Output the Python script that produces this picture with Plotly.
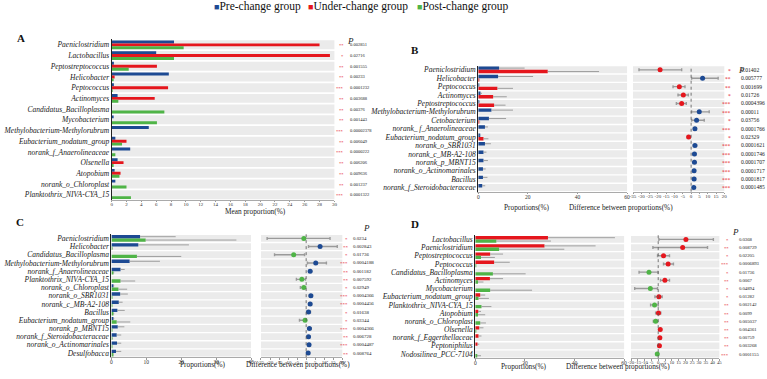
import plotly.graph_objects as go

# ---------------- data ----------------
A_taxa = ["Paeniclostridium", "Lactobacillus", "Peptostreptococcus", "Helicobacter", "Peptococcus",
          "Actinomyces", "Candidatus_Bacilloplasma", "Mycobacterium", "Methylobacterium-Methylorubrum",
          "Eubacterium_nodatum_group", "norank_f_Anaerolineaceae", "Olsenella", "Atopobium",
          "norank_o_Chloroplast", "Planktothrix_NIVA-CYA_15"]
A_pre = [8.4, 6.0, 0.3, 7.7, 0.3, 0.8, 0, 0.2, 5.0, 0.5, 2.5, 0.8, 0.4, 0.5, 0]
A_under = [28.0, 29.4, 6.1, 0.4, 7.6, 5.8, 0, 0, 0, 2.0, 0, 1.6, 1.2, 0, 0]
A_post = [9.7, 8.4, 2.3, 0.2, 0.1, 0.9, 7.1, 6.1, 0, 1.4, 0.5, 0.2, 1.05, 2.0, 2.6]
A_p = ["0.002851", "0.02716", "0.001555", "0.00233", "0.0001232", "0.003688", "0.00376", "0.001443",
       "0.00002378", "0.006049", "0.0000222", "0.006206", "0.009636", "0.001237", "0.0001322"]

B_taxa = ["Paeniclostridium", "Helicobacter", "Peptococcus", "Actinomyces", "Peptostreptococcus",
          "Methylobacterium-Methylorubrum", "Cetobacterium", "norank_ f_Anaerolineaceae",
          "Eubacterium_nodatum_group", "norank_o_SBR1031", "norank_c_MB-A2-108", "norank_p_MBNT15",
          "norank_o_Actinomarinales", "Bacillus", "norank_f_Steroidobacteraceae"]
B_pre = [8.4, 8.0, 0.2, 0.9, 0.3, 5.3, 4.3, 2.7, 0.5, 2.7, 2.1, 2.1, 1.9, 1.9, 1.6]
B_pre_sd = [10.3, 14.1, 0.2, 0.6, 0.3, 8.7, 6.9, 1.2, 0.3, 2.4, 1.2, 1.8, 1.1, 1.8, 1.2]
B_under = [28.0, 0.3, 7.7, 6.0, 6.4, 0, 0.4, 0, 2.1, 0, 0, 0, 0, 0, 0]
B_under_sd = [20.7, 0.3, 6.3, 5.5, 4.6, 0, 0.4, 0, 2.0, 0, 0, 0, 0, 0, 0]
B_diff = [-18.7, 6.9, -7.1, -4.7, -5.7, 4.9, 3.3, 2.3, -1.5, 2.3, 2.0, 2.0, 1.8, 1.8, 1.6]
B_lo = [-31.4, 0.3, -10.9, -7.9, -8.9, 0.3, 0.3, 1.5, -2.3, 1.4, 1.3, 1.2, 1.1, 1.1, 0.9]
B_hi = [-5.7, 16.3, -3.7, -1.7, -2.9, 10.9, 7.9, 3.1, -0.5, 3.3, 2.7, 2.8, 2.5, 2.6, 2.3]
B_p = ["0.01402", "0.005777", "0.001699", "0.01726", "0.0004396", "0.00011", "0.03756", "0.0001766",
       "0.02329", "0.0001621", "0.0001746", "0.0001707", "0.0001717", "0.0001817", "0.0001485"]

C_taxa = ["Paeniclostridium", "Helicobacter", "Candidatus_Bacilloplasma", "Methylobacterium-Methylorubrum",
          "norank_f_Anaerolineaceae", "Planktothrix_NIVA-CYA_15", "norank_o_Chloroplast", "norank_o_SBR1031",
          "norank_c_MB-A2-108", "Bacillus", "Eubacterium_nodatum_group", "norank_p_MBNT15",
          "norank_f_Steroidobacteraceae", "norank_o_Actinomarinales", "Desulfobacca"]
C_pre = [8.2, 7.7, 0, 5.2, 2.6, 0, 0.5, 2.5, 2.1, 1.7, 0.5, 1.8, 1.5, 1.6, 1.3]
C_pre_sd = [10.2, 14.5, 0, 8.7, 1.2, 0, 0.3, 2.2, 1.1, 2.1, 0.3, 1.9, 1.3, 1.2, 1.5]
C_post = [9.8, 0.2, 7.3, 0, 0.5, 2.6, 2.0, 0.1, 0.1, 0.5, 1.5, 0.1, 0.2, 0.1, 0.3]
C_post_sd = [26.0, 0.2, 12.7, 0, 0.3, 4.2, 2.5, 0.1, 0.1, 0.3, 3.9, 0.1, 0.2, 0.1, 0.2]
C_diff = [-1.3, 7.7, -6.9, 5.3, 2.2, -2.4, -1.3, 2.6, 2.2, 1.3, -0.6, 1.8, 1.3, 1.6, 1.1]
C_lo = [-21.6, 1.3, -17.5, 0.7, 1.4, -5.4, -3.2, 1.7, 1.4, 0.2, -3.7, 1.0, 0.6, 0.9, 0.3]
C_hi = [13.2, 17.2, -0.9, 11.2, 3.0, -0.4, -0.3, 3.5, 3.0, 2.4, -0.1, 2.8, 2.0, 2.3, 1.9]
C_p = ["0.0234", "0.002843", "0.01736", "0.0004188", "0.001182", "0.007592", "0.02949", "0.0004366",
       "0.0004456", "0.01638", "0.03344", "0.0004366", "0.006728", "0.0004487", "0.008764"]

D_taxa = ["Lactobacillus", "Paeniclostridium", "Peptostreptococcus", "Peptococcus", "Candidatus_Bacilloplasma",
          "Actinomyces", "Mycobacterium", "Eubacterium_nodatum_group", "Planktothrix_NIVA-CYA_15", "Atopobium",
          "norank_o_Chloroplast", "Olsenella", "norank_f_Eggerthellaceae", "Peptoniphilus", "Nodosilinea_PCC-7104"]
D_under = [29.3, 27.9, 6.0, 7.6, 0, 5.9, 0, 2.0, 0, 1.2, 0, 1.6, 1.3, 0.9, 0]
D_under_sd = [27.0, 20.6, 5.2, 6.3, 0, 5.3, 0, 2.0, 0, 1.1, 0, 1.7, 1.2, 0.7, 0]
D_post = [8.5, 9.6, 2.3, 0.1, 7.1, 1.1, 6.0, 1.3, 2.5, 1.1, 2.0, 0.2, 0, 0, 0.6]
D_post_sd = [22.0, 26.3, 5.6, 0, 13.2, 2.2, 16.9, 4.2, 4.0, 2.9, 2.3, 0.1, 0, 0, 1.7]
D_diff = [20.4, 18.0, 3.9, 7.3, -6.8, 4.9, -5.8, 0.5, -2.7, 0.2, -1.9, 1.5, 1.2, 0.9, -0.7]
D_lo = [0.5, -3.9, -0.5, 3.9, -14.1, 1.7, -17.3, -2.4, -5.6, -1.9, -3.6, 1.0, 0.7, 0.5, -1.2]
D_hi = [40.6, 36.3, 8.3, 11.2, -0.2, 8.3, -0.5, 2.9, 0.0, 1.9, -0.5, 2.0, 1.7, 1.3, -0.2]
D_p = ["0.0368", "0.008729", "0.02205", "0.0006893", "0.01736", "0.0067", "0.04894", "0.01282",
       "0.002142", "0.0099", "0.005037", "0.004361", "0.00759", "0.003268", "0.0001155"]

groups = ["Pre-change group", "Under-change group", "Post-change group"]

# ---------------- style ----------------
W, H = 767, 379
FONT = "Liberation Serif"
BLUE, RED, GREEN = "#1d4a93", "#e5161d", "#4fb447"
BAND = "#ebebeb"
ERR = "#8a8a8a"
CI = "#9a9a9a"


def fx(p):
    return p / W


def fy(p):
    return 1 - p / H


def stars(p):
    v = float(p)
    return "***" if v < 0.001 else ("**" if v < 0.01 else "*")


fig = go.Figure()
shapes, annos = [], []
layout = {}


def yaxis_cfg(taxa, dom, anchor):
    n = len(taxa)
    return dict(domain=[fy(dom[1]), fy(dom[0])], range=[n - 0.5, -0.5], anchor=anchor,
                tickvals=list(range(n)), ticktext=["<i>%s</i>" % t for t in taxa],
                tickfont=dict(family=FONT, size=7.5, color="#1a1a1a"), ticks="",
                showgrid=False, zeroline=False, showline=True, linecolor="#222", linewidth=1,
                fixedrange=True)


def xaxis_cfg(dom, rng, anchor, tickvals, ticktext=None, size=5.5):
    d = dict(domain=[fx(dom[0]), fx(dom[1])], range=rng, anchor=anchor, tickvals=tickvals,
             tickfont=dict(family=FONT, size=size, color="#333"), ticks="outside", ticklen=1.5,
             tickcolor="#999", showline=True, linecolor="#aaa", linewidth=0.8, tickangle=0,
             ticklabelstandoff=-2,
             showgrid=False, zeroline=False, fixedrange=True)
    if ticktext:
        d["ticktext"] = ticktext
    return d


def bands(xname, yname, n):
    for i in range(n):
        shapes.append(dict(type="rect", xref="%s domain" % xname, yref=yname, x0=0, x1=1,
                           y0=i - 0.42, y1=i + 0.42, fillcolor=BAND, line_width=0, layer="below"))


def pcol(yname, pvals, xs, xv, size, ph_xy):
    for i, p in enumerate(pvals):
        annos.append(dict(x=fx(xs), y=i, xref="paper", yref=yname, text=stars(p), showarrow=False,
                          xanchor="right", yanchor="middle", yshift=-1,
                          font=dict(family=FONT, size=size, color=RED)))
        annos.append(dict(x=fx(xv), y=i, xref="paper", yref=yname, text=p, showarrow=False,
                          xanchor="left", yanchor="middle", font=dict(family=FONT, size=size, color="#222")))
    annos.append(dict(x=fx(ph_xy[0]), y=fy(ph_xy[1]), xref="paper", yref="paper", text="<i>P</i>",
                      showarrow=False, font=dict(family=FONT, size=9, color="#222")))


def bar(vals, sd, color, name, xa, ya):
    err = None
    if sd is not None:
        err = dict(type="data", symmetric=False, array=sd, arrayminus=[0] * len(sd),
                   color=ERR, thickness=0.8, width=0)
    fig.add_trace(go.Bar(x=vals, y=list(range(len(vals))), orientation="h", name=name,
                         marker=dict(color=color, line_width=0), error_x=err,
                         xaxis=xa, yaxis=ya, showlegend=False, hoverinfo="x+y"))


def diff(vals, lo, hi, pos_col, neg_col, xa, ya):
    cols = [pos_col if v >= 0 else neg_col for v in vals]
    fig.add_trace(go.Scatter(x=vals, y=list(range(len(vals))), mode="markers",
                             marker=dict(color=cols, size=5, symbol="circle"),
                             error_x=dict(type="data", symmetric=False,
                                          array=[h - v for h, v in zip(hi, vals)],
                                          arrayminus=[v - l for v, l in zip(vals, lo)],
                                          color=CI, thickness=1.4, width=1.5),
                             xaxis=xa, yaxis=ya, showlegend=False))
    shapes.append(dict(type="line", xref=xa, yref="%s domain" % ya, x0=0, x1=0, y0=0, y1=1,
                       line=dict(color="#555", width=0.8, dash="dot")))


def title(text, x, y, size=7.3):
    annos.append(dict(x=fx(x), y=fy(y), xref="paper", yref="paper", text=text, showarrow=False,
                      font=dict(family=FONT, size=size, color="#222")))


# ---------------- panel A ----------------
bar(A_pre, None, BLUE, groups[0], "x", "y")
bar(A_under, None, RED, groups[1], "x", "y")
bar(A_post, None, GREEN, groups[2], "x", "y")
layout["xaxis"] = xaxis_cfg((109.5, 334), [0, 30], "y", list(range(0, 31, 2)), size=5)
layout["yaxis"] = yaxis_cfg(A_taxa, (39.6, 200.6), "x")
bands("x", "y", 15)
pcol("y", A_p, 345.5, 348, 4.5, (350, 34))
title("Mean proportion(%)", 222, 212.5)

# ---------------- panel B ----------------
bar(B_pre, B_pre_sd, BLUE, groups[0], "x2", "y2")
bar(B_under, B_under_sd, RED, groups[1], "x2", "y2")
diff(B_diff, B_lo, B_hi, BLUE, RED, "x3", "y2")
layout["xaxis2"] = xaxis_cfg((479, 629), [0, 60], "y2", [0, 20, 40, 60])
layout["xaxis3"] = xaxis_cfg((635, 727), [-35, 20], "y2", list(range(-35, 21, 5)),
                             [str(v) for v in range(-35, 21, 5)], size=5)
layout["yaxis2"] = yaxis_cfg(B_taxa, (65.8, 192.2), "x2")
bands("x2", "y2", 15)
bands("x3", "y2", 15)
pcol("y2", B_p, 736, 741.5, 5.6, (750, 63))
title("Proportions(%)", 553, 208.5)
title("Difference between proportions(%)", 677, 208.5)

# ---------------- panel C ----------------
bar(C_pre, C_pre_sd, BLUE, groups[0], "x4", "y4")
bar(C_post, C_post_sd, GREEN, groups[2], "x4", "y4")
diff(C_diff, C_lo, C_hi, BLUE, GREEN, "x5", "y4")
layout["xaxis4"] = xaxis_cfg((109.3, 250), [0, 40], "y4", [0, 10, 20, 30, 40])
layout["xaxis5"] = xaxis_cfg((260, 342), [-25, 20], "y4", list(range(-25, 21, 5)),
                             [str(v) for v in range(-25, 21, 5)], size=5)
layout["yaxis4"] = yaxis_cfg(C_taxa, (234.9, 358.1), "x4")
bands("x4", "y4", 15)
bands("x5", "y4", 15)
pcol("y4", C_p, 350, 351, 4.9, (366, 229))
title("Proportions(%)", 176, 371.5)
title("Difference between proportions(%)", 297, 371.5)

# ---------------- panel D ----------------
bar(D_under, D_under_sd, RED, groups[1], "x6", "y6")
bar(D_post, D_post_sd, GREEN, groups[2], "x6", "y6")
diff(D_diff, D_lo, D_hi, RED, GREEN, "x7", "y6")
layout["xaxis6"] = xaxis_cfg((476, 626), [0, 60], "y6", [0, 20, 40, 60])
layout["xaxis7"] = xaxis_cfg((633, 722), [-20, 45], "y6", list(range(-20, 46, 5)),
                             [str(v) for v in range(-20, 46, 5)], size=4.8)
layout["yaxis6"] = yaxis_cfg(D_taxa, (235.9, 359.1), "x6")
bands("x6", "y6", 15)
bands("x7", "y6", 15)
pcol("y6", D_p, 734, 740, 4.7, (744, 233))
title("Proportions(%)", 550, 374)
title("Difference between proportions(%)", 674, 374)

# ---------------- panel letters ----------------
for letter, x, y in (("A", 12, 30), ("B", 415, 42), ("C", 11, 223), ("D", 415, 225)):
    annos.append(dict(x=fx(x), y=fy(y), xref="paper", yref="paper", text="<b>%s</b>" % letter,
                      showarrow=False, font=dict(family=FONT, size=11, color="#111")))

# ---------------- legend ----------------
for name, col, x in ((groups[0], BLUE, 211), (groups[1], RED, 305), (groups[2], GREEN, 415)):
    annos.append(dict(x=fx(x), y=fy(7), xref="paper", yref="paper", xanchor="left", yanchor="middle",
                      text="<span style='color:%s;font-size:9px'>■</span>%s" % (col, name),
                      showarrow=False, font=dict(family=FONT, size=11.5, color="#111")))

fig.update_layout(**layout)
fig.update_layout(width=W, height=H, margin=dict(l=0, r=0, t=0, b=0),
                  paper_bgcolor="white", plot_bgcolor="white",
                  barmode="group", bargap=0.18, bargroupgap=0,
                  showlegend=False, shapes=shapes, annotations=annos,
                  font=dict(family=FONT))
fig.write_html("out.html")
